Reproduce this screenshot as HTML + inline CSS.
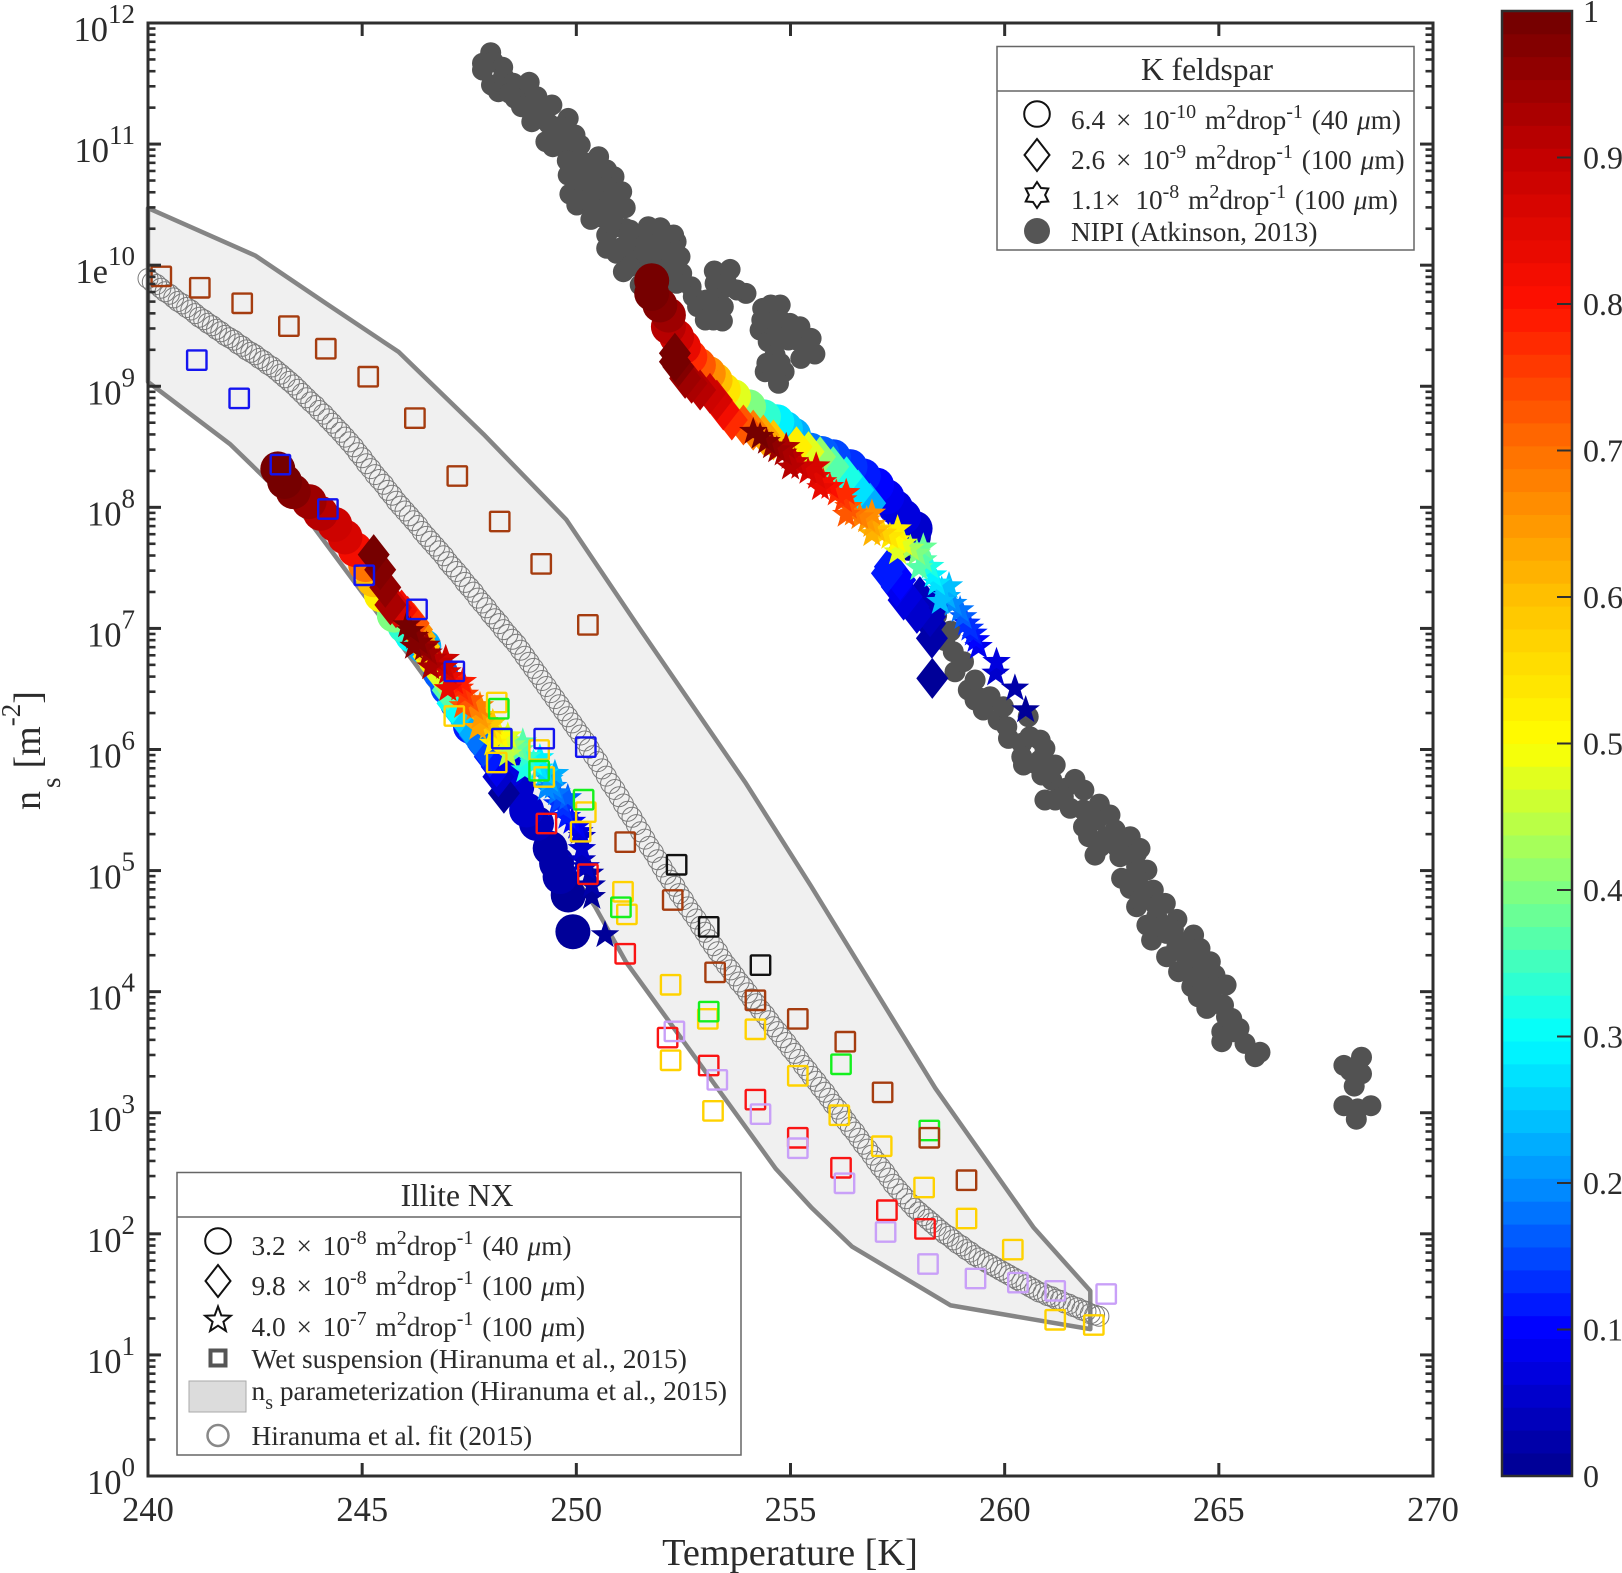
<!DOCTYPE html>
<html lang="en">
<head>
<meta charset="utf-8">
<title>Ice nucleation site density vs temperature</title>
<style>
html,body{margin:0;padding:0;background:#fff;}
svg{display:block;font-family:"Liberation Serif",serif;fill:#2b2b2b;}
</style>
</head>
<body>
<svg id="chart" xmlns="http://www.w3.org/2000/svg" width="1622" height="1573" viewBox="0 0 1622 1573">
  <g id="band-layer"></g>
  <g id="nipi-layer"></g>
  <g id="fit-layer"></g>
  <g id="marker-layer"></g>
  <g id="square-layer"></g>
  <g id="axis-layer"></g>
  <g id="colorbar-layer"></g>

  <text x="790" y="1565" font-size="38.3" text-anchor="middle">Temperature [K]</text>
  <text transform="translate(40,810) rotate(-90)" font-size="38">n<tspan font-size="27" dy="20" dx="3">s</tspan><tspan dy="-20" dx="9">[m</tspan><tspan font-size="27" dy="-20">-2</tspan><tspan dy="20">]</tspan></text>

  <g>
    <rect x="997" y="46.5" width="417" height="203.5" fill="#fff" stroke="#666" stroke-width="1.5"/>
    <line x1="997" y1="91" x2="1414" y2="91" stroke="#666" stroke-width="1.5"/>
    <text x="1207" y="80" font-size="31.5" text-anchor="middle">K feldspar</text>
    <circle cx="1037" cy="114" r="12.8" fill="none" stroke="#111" stroke-width="2"/>
    <polygon points="1037,139 1049.5,155 1037,171 1024.5,155" fill="none" stroke="#111" stroke-width="2"/>
    <polygon id="k-star-icon" fill="none" stroke="#111" stroke-width="2"/>
    <circle cx="1037" cy="231" r="13" fill="#555"/>
    <text x="1071" y="129" font-size="27.3">6.4 <tspan dx="4">×</tspan><tspan dx="4"> 10</tspan><tspan font-size="20" dy="-11">-10</tspan><tspan dy="11" dx="2"> m</tspan><tspan font-size="20" dy="-11">2</tspan><tspan dy="11">drop</tspan><tspan font-size="20" dy="-11">-1</tspan><tspan dy="11" dx="2"> (40 </tspan><tspan font-style="italic" dx="2">μ</tspan>m)</text>
    <text x="1071" y="169" font-size="27.3">2.6 <tspan dx="4">×</tspan><tspan dx="4"> 10</tspan><tspan font-size="20" dy="-11">-9</tspan><tspan dy="11" dx="2"> m</tspan><tspan font-size="20" dy="-11">2</tspan><tspan dy="11">drop</tspan><tspan font-size="20" dy="-11">-1</tspan><tspan dy="11" dx="2"> (100 </tspan><tspan font-style="italic" dx="2">μ</tspan>m)</text>
    <text x="1071" y="209" font-size="27.3">1.1×<tspan dx="8"> 10</tspan><tspan font-size="20" dy="-11">-8</tspan><tspan dy="11" dx="2"> m</tspan><tspan font-size="20" dy="-11">2</tspan><tspan dy="11">drop</tspan><tspan font-size="20" dy="-11">-1</tspan><tspan dy="11" dx="2"> (100 </tspan><tspan font-style="italic" dx="2">μ</tspan>m)</text>
    <text x="1071" y="241" font-size="27.3">NIPI (Atkinson, 2013)</text>
  </g>

  <g>
    <rect x="177" y="1172.5" width="564" height="282.5" fill="#fff" stroke="#666" stroke-width="1.5"/>
    <line x1="177" y1="1217" x2="741" y2="1217" stroke="#666" stroke-width="1.5"/>
    <text x="457" y="1206" font-size="31.5" text-anchor="middle">Illite NX</text>
    <circle cx="218" cy="1241" r="12.8" fill="none" stroke="#111" stroke-width="2"/>
    <polygon points="218,1265 230.5,1281 218,1297 205.5,1281" fill="none" stroke="#111" stroke-width="2"/>
    <polygon id="illite-star-icon" fill="none" stroke="#111" stroke-width="2"/>
    <rect x="210.5" y="1350.5" width="15" height="15" fill="none" stroke="#555" stroke-width="4"/>
    <rect x="189" y="1381" width="57" height="31" fill="#dcdcdc" stroke="#aaa" stroke-width="1"/>
    <circle cx="218" cy="1435.5" r="10.5" fill="none" stroke="#888" stroke-width="2.5"/>
    <text x="251.5" y="1255" font-size="27.3">3.2 <tspan dx="4">×</tspan><tspan dx="4"> 10</tspan><tspan font-size="20" dy="-11">-8</tspan><tspan dy="11" dx="2"> m</tspan><tspan font-size="20" dy="-11">2</tspan><tspan dy="11">drop</tspan><tspan font-size="20" dy="-11">-1</tspan><tspan dy="11" dx="2"> (40 </tspan><tspan font-style="italic" dx="2">μ</tspan>m)</text>
    <text x="251.5" y="1295" font-size="27.3">9.8 <tspan dx="4">×</tspan><tspan dx="4"> 10</tspan><tspan font-size="20" dy="-11">-8</tspan><tspan dy="11" dx="2"> m</tspan><tspan font-size="20" dy="-11">2</tspan><tspan dy="11">drop</tspan><tspan font-size="20" dy="-11">-1</tspan><tspan dy="11" dx="2"> (100 </tspan><tspan font-style="italic" dx="2">μ</tspan>m)</text>
    <text x="251.5" y="1336" font-size="27.3">4.0 <tspan dx="4">×</tspan><tspan dx="4"> 10</tspan><tspan font-size="20" dy="-11">-7</tspan><tspan dy="11" dx="2"> m</tspan><tspan font-size="20" dy="-11">2</tspan><tspan dy="11">drop</tspan><tspan font-size="20" dy="-11">-1</tspan><tspan dy="11" dx="2"> (100 </tspan><tspan font-style="italic" dx="2">μ</tspan>m)</text>
    <text x="251.5" y="1368" font-size="27.5">Wet suspension (Hiranuma et al., 2015)</text>
    <text x="251.5" y="1400" font-size="27.4">n<tspan font-size="20" dy="9">s</tspan><tspan dy="-9"> parameterization (Hiranuma et al., 2015)</tspan></text>
    <text x="251.5" y="1445" font-size="27.4">Hiranuma et al. fit (2015)</text>
  </g>
</svg>

<script>
// ---- axis ticks ----
var xTicks = [240, 245, 250, 255, 260, 265, 270];
var yTickExponents = [0, 1, 2, 3, 4, 5, 6, 7, 8, 9, 10, 11, 12];
var colorbarTicks = [0, 0.1, 0.2, 0.3, 0.4, 0.5, 0.6, 0.7, 0.8, 0.9, 1];
var colorbarTickLabels = ['0', '0.1', '0.2', '0.3', '0.4', '0.5', '0.6', '0.7', '0.8', '0.9', '1'];
var minorMultipliers = [2, 3, 4, 5, 6, 7, 8, 9];

// ---- colour scale stops, one per colorbar tick ----
var colorStopsR = [0, 0, 0, 0, 128, 255, 255, 255, 255, 195, 112];
var colorStopsG = [0, 0, 144, 255, 255, 255, 192, 112, 16, 0, 0];
var colorStopsB = [143, 255, 255, 255, 128, 0, 0, 0, 0, 0, 0];

// ---- parameterization band (T in K, log10 ns) ----
var bandUpperT = [240, 242.51, 244.15, 245.85, 247.83, 249.76, 251.52, 253.94, 255.48, 258.38, 260.68, 262];
var bandUpperLog = [10.471, 10.078, 9.685, 9.284, 8.605, 7.9, 6.978, 5.731, 4.871, 3.203, 2.05, 1.529];
var bandLowerT = [262, 258.74, 256.43, 255.48, 254.66, 251.16, 250.43, 249.59, 248.14, 246.21, 243.79, 242.71, 241.91, 240];
var bandLowerLog = [1.213, 1.409, 1.896, 2.22, 2.536, 4.245, 4.706, 5.141, 5.782, 6.721, 7.875, 8.25, 8.524, 9.036];

// ---- NIPI (Atkinson, 2013) ----
var nipiT = [248.0,247.81,247.81,248.06,248.28,248.02,248.18,248.30,248.53,248.9,248.76,248.57,248.72,249.08,249.43,249.23,248.96,249.15,249.29,249.45,249.81,249.62,249.97,250.09,249.70,249.85,249.79,250.52,250.28,249.81,250.01,250.71,250.88,250.40,250.09,249.85,250.01,251.06,250.71,250.55,250.36,251.14,250.34,250.71,250.94,250.71,250.71,251.14,250.94,251.10,251.41,251.68,251.96,252.27,252.33,252.3,251.96,251.64,251.33,251.53,252.27,252.46,252.68,252.34,251.49,251.96,
248.45,248.99,249.35,249.54,249.85,250.16,250.05,250.4,250.24,250.79,250.55,250.94,250.83,251.25,251.1,251.57,251.88,252.03,251.25,251.96,252.42,252.11,252.73,
253.01,252.83,253.22,253.59,253.96,253.43,253.24,253.2,253.41,253.43,253.04,253.51,253.28,253.75,253.2,
254.35,254.54,254.76,254.29,254.48,254.76,254.99,255.22,255.48,255.57,255.24,254.95,255.15,254.41,254.66,254.85,254.72,254.64,254.52,254.68,255.07,255.38,254.6,254.33,254.64,254.45,254.76,
258.41,258.74,258.6,258.80,258.84,259.15,259.31,259.31,259.50,259.85,259.66,259.97,260.09,260.55,260.4,260.4,260.44,260.83,260.94,261.18,260.87,260.83,261.10,261.64,261.85,260.94,261.18,261.41,261.53,261.84,262.21,262.46,262.15,262.58,262.11,262.23,262.38,262.93,263.16,262.62,262.85,263.32,263.08,262.73,262.93,263.08,263.47,263.24,263.75,263.32,263.43,263.78,264.02,264.41,264.56,264.06,263.78,264.17,264.8,264.25,264.91,265.17,264.37,264.52,264.72,265.11,265.30,265.07,265.47,265.07,265.26,265.61,265.85,265.96,264.64,263.55,
259.04,259.46,260.05,260.59,260.71,260.98,261.37,261.84,261.96,262.69,263.08,263.0,263.16,263.55,263.67,263.94,264.02,264.41,264.48,264.72,264.95,264.87,265.18,265.34,
267.92,268.33,268.33,268.16,267.92,268.24,268.55,268.21,268.07];
var nipiLog = [11.755,11.667,11.612,11.68,11.634,11.488,11.433,11.557,11.502,11.51,11.419,11.378,11.309,11.391,11.323,11.281,11.185,11.226,11.02,10.978,11.212,11.144,11.075,10.992,11.033,10.923,10.863,10.896,10.841,10.744,10.786,10.786,10.731,10.731,10.648,10.587,10.497,10.607,10.648,10.565,10.51,10.475,10.378,10.455,10.318,10.249,10.139,10.304,10.098,9.946,10.235,10.318,10.309,10.249,10.194,10.125,10.18,10.18,10.098,10.015,10.042,9.932,9.822,9.85,9.836,10.042,
11.419,11.309,11.171,11.061,11.033,10.841,10.703,10.62,10.538,10.538,10.40,10.455,10.345,10.29,10.153,10.098,10.125,10.249,9.987,9.905,10.07,9.932,9.74,
9.547,9.657,9.952,9.965,9.767,9.808,9.85,9.726,9.539,9.657,9.712,9.85,9.602,9.795,9.547,
9.643,9.671,9.671,9.464,9.368,9.547,9.519,9.492,9.395,9.266,9.23,9.382,9.382,9.12,9.208,9.12,9.024,9.106,9.519,9.409,9.464,9.327,9.547,9.547,9.258,9.19,9.19,
7.106,6.978,6.9,6.808,6.642,6.491,6.574,6.408,6.326,6.243,6.436,6.353,6.092,6.271,6.051,5.94,5.872,6.078,6.009,5.872,5.789,5.913,5.748,5.753,5.665,5.583,5.583,5.679,5.514,5.362,5.549,5.459,5.417,5.335,5.128,5.197,5.28,5.28,5.183,5.197,5.142,5.004,5.032,4.936,4.853,4.702,4.839,4.839,4.729,4.55,4.426,4.289,4.597,4.468,4.357,4.165,4.481,4.399,4.247,4.261,4.137,4.055,4.041,3.958,3.862,3.889,3.779,3.669,3.697,3.587,3.669,3.573,3.463,3.499,4.151,4.619,
6.725,6.422,6.188,6.106,5.885,5.803,5.61,5.5,5.28,5.115,5.142,4.949,4.757,4.702,4.536,4.509,4.371,4.289,4.123,3.986,3.903,4.041,3.793,3.669,
3.391,3.459,3.322,3.22,3.058,3.032,3.058,2.947,3.348];

// ---- Hiranuma et al. fit (2015) ----
var fitT = [240,240.1,240.2,240.3,240.4,240.5,240.6,240.7,240.8,240.9,241,241.1,241.2,241.3,241.4,241.5,241.6,241.7,241.8,241.9,242,242.1,242.2,242.3,242.4,242.5,242.6,242.7,242.8,242.9,243,243.1,243.2,243.3,243.4,243.5,243.6,243.7,243.8,243.9,244,244.1,244.2,244.3,244.4,244.5,244.6,244.7,244.8,244.9,245,245.1,245.2,245.3,245.4,245.5,245.6,245.7,245.8,245.9,246,246.1,246.2,246.3,246.4,246.5,246.6,246.7,246.8,246.9,247,247.1,247.2,247.3,247.4,247.5,247.6,247.7,247.8,247.9,248,248.1,248.2,248.3,248.4,248.5,248.6,248.7,248.8,248.9,249,249.1,249.2,249.3,249.4,249.5,249.6,249.7,249.8,249.9,250,250.1,250.2,250.3,250.4,250.5,250.6,250.7,250.8,250.9,251,251.1,251.2,251.3,251.4,251.5,251.6,251.7,251.8,251.9,252,252.1,252.2,252.3,252.4,252.5,252.6,252.7,252.8,252.9,253,253.1,253.2,253.3,253.4,253.5,253.6,253.7,253.8,253.9,254,254.1,254.2,254.3,254.4,254.5,254.6,254.7,254.8,254.9,255,255.1,255.2,255.3,255.4,255.5,255.6,255.7,255.8,255.9,256,256.1,256.2,256.3,256.4,256.5,256.6,256.7,256.8,256.9,257,257.1,257.2,257.3,257.4,257.5,257.6,257.7,257.8,257.9,258,258.1,258.2,258.3,258.4,258.5,258.6,258.7,258.8,258.9,259,259.1,259.2,259.3,259.4,259.5,259.6,259.7,259.8,259.9,260,260.1,260.2,260.3,260.4,260.5,260.6,260.7,260.8,260.9,261,261.1,261.2,261.3,261.4,261.5,261.6,261.7,261.8,261.9,262,262.1,262.2];
var fitLog = [9.89,9.86,9.84,9.81,9.78,9.76,9.73,9.70,9.68,9.65,9.63,9.60,9.57,9.55,9.52,9.50,9.47,9.45,9.42,9.40,9.38,9.35,9.33,9.30,9.28,9.26,9.23,9.21,9.18,9.16,9.13,9.10,9.07,9.04,9.01,8.975,8.94,8.905,8.87,8.84,8.80,8.77,8.73,8.695,8.655,8.62,8.58,8.54,8.50,8.45,8.41,8.36,8.32,8.27,8.23,8.19,8.14,8.10,8.05,8.01,7.97,7.93,7.89,7.85,7.80,7.76,7.72,7.68,7.64,7.60,7.55,7.51,7.47,7.43,7.38,7.34,7.30,7.25,7.21,7.17,7.12,7.08,7.04,6.99,6.95,6.91,6.87,6.82,6.77,6.72,6.67,6.62,6.57,6.52,6.47,6.42,6.37,6.32,6.27,6.22,6.17,6.12,6.07,6.01,5.95,5.90,5.84,5.78,5.72,5.67,5.61,5.55,5.49,5.44,5.38,5.32,5.26,5.20,5.15,5.09,5.03,4.97,4.92,4.87,4.81,4.76,4.70,4.65,4.60,4.54,4.49,4.43,4.38,4.33,4.27,4.22,4.18,4.13,4.08,4.04,3.99,3.94,3.90,3.85,3.81,3.76,3.71,3.67,3.62,3.58,3.53,3.49,3.44,3.39,3.35,3.30,3.26,3.21,3.17,3.12,3.07,3.03,2.98,2.93,2.88,2.84,2.79,2.74,2.70,2.65,2.60,2.55,2.51,2.46,2.41,2.37,2.33,2.29,2.25,2.21,2.18,2.15,2.12,2.09,2.06,2.03,2.00,1.98,1.95,1.92,1.90,1.87,1.85,1.82,1.80,1.78,1.76,1.74,1.72,1.70,1.68,1.66,1.64,1.62,1.60,1.58,1.56,1.54,1.52,1.51,1.49,1.48,1.46,1.45,1.43,1.42,1.40,1.39,1.37,1.36,1.34,1.33,1.32];

// ---- Illite NX droplet series (T, log10 ns, frozen fraction) ----
var illiteCircleT = [243.03,243.19,243.39,243.76,244.03,244.36,244.6,244.84,245.08,245.27,245.45,245.75,246.0,246.17,246.44,246.83,247.0,247.22,247.53,247.85,248.16,248.4,248.61,248.84,249.07,249.39,249.54,249.62,249.81,249.92];
var illiteCircleLog = [8.317,8.213,8.13,8.047,7.951,7.859,7.755,7.651,7.527,7.402,7.277,7.11,7.02,6.944,6.852,6.632,6.51,6.384,6.191,6.078,5.971,5.83,5.693,5.5,5.39,5.184,5.06,4.95,4.798,4.495];
var illiteCircleFrac = [1,0.99,0.98,0.95,0.92,0.89,0.86,0.82,0.7,0.6,0.52,0.4,0.34,0.3,0.22,0.16,0.145,0.13,0.11,0.09,0.075,0.068,0.06,0.05,0.04,0.03,0.025,0.02,0.01,0];

var illiteDiamondT = [245.27,245.42,245.54,245.66,245.79,245.92,246.06,246.2,246.28,246.35,246.45,246.55,246.72,246.88,247.0,247.11,247.27,247.44,247.63,247.83,247.98,248.14,248.18,248.31];
var illiteDiamondLog = [7.61,7.485,7.339,7.194,7.17,7.152,7.1,7.042,6.99,6.932,6.85,6.767,6.68,6.601,6.49,6.381,6.3,6.216,6.12,6.023,5.94,5.858,5.775,5.638];
var illiteDiamondFrac = [1,0.98,0.96,0.93,0.87,0.82,0.77,0.72,0.67,0.62,0.57,0.52,0.47,0.42,0.36,0.3,0.26,0.22,0.18,0.15,0.115,0.08,0.05,0];

var illiteStarT = [246.04,246.13,246.23,246.33,246.43,246.55,246.66,246.8,246.93,246.99,247.05,247.16,247.28,247.4,247.52,247.63,247.75,247.85,247.95,248.08,248.22,248.35,248.49,248.6,248.69,248.85,249.0,249.14,249.27,249.37,249.46,249.54,249.62,249.7,249.78,249.9,250.01,250.07,250.13,250.13,250.13,250.22,250.32,250.36,250.36,250.67,
246.5,246.95,247.35,247.75,248.05,248.4,248.75,249.15,249.5,249.8,249.55,246.2,246.6,247.0,247.35,247.7,248.05,248.4,248.8,249.3];
var illiteStarLog = [7.028,6.98,6.932,6.885,6.835,6.795,6.753,6.72,6.684,6.64,6.601,6.555,6.505,6.455,6.409,6.34,6.271,6.23,6.188,6.145,6.106,6.07,6.037,6.015,5.996,5.94,5.886,5.845,5.803,5.75,5.693,5.64,5.583,5.515,5.445,5.405,5.363,5.32,5.28,5.18,5.087,5.03,4.977,4.88,4.784,4.468,
6.86,6.75,6.56,6.36,6.22,6.11,6.06,5.93,5.8,5.6,5.55,6.85,6.68,6.5,6.36,6.18,6.05,5.96,5.83,5.68];
var illiteStarFrac = [1,0.99,0.98,0.97,0.96,0.94,0.92,0.9,0.88,0.86,0.84,0.81,0.78,0.75,0.72,0.685,0.65,0.615,0.58,0.54,0.5,0.46,0.42,0.39,0.36,0.33,0.3,0.275,0.25,0.225,0.2,0.175,0.15,0.13,0.11,0.095,0.08,0.07,0.06,0.05,0.04,0.035,0.03,0.022,0.015,0,
0.95,0.89,0.79,0.68,0.59,0.47,0.37,0.29,0.23,0.16,0.14,0.97,0.93,0.83,0.73,0.63,0.53,0.44,0.32,0.2];

// ---- K feldspar droplet series (T, log10 ns, frozen fraction) ----
var kCircleT = [251.76,251.76,251.95,252.15,252.15,252.34,252.5,252.65,252.85,253.08,253.24,253.43,253.67,254.02,254.37,254.68,254.88,255.07,255.46,255.73,256.0,256.39,256.7,257.01,257.25,257.45,257.64,257.91,257.87,257.79];
var kCircleLog = [9.872,9.767,9.671,9.588,9.492,9.409,9.327,9.244,9.175,9.106,9.051,8.969,8.914,8.831,8.748,8.707,8.65,8.597,8.473,8.445,8.418,8.336,8.26,8.184,8.088,8.0,7.923,7.826,7.757,7.702];
var kCircleFrac = [1,0.99,0.97,0.95,0.92,0.88,0.84,0.78,0.72,0.66,0.6,0.54,0.47,0.4,0.33,0.29,0.26,0.23,0.18,0.165,0.15,0.125,0.112,0.1,0.085,0.078,0.07,0.05,0.03,0.01];

var kDiamondT = [252.3,252.3,252.38,252.54,252.69,252.89,253.12,253.28,253.43,253.63,253.9,254.13,254.37,254.6,255.14,255.42,255.69,256.0,256.31,256.58,256.86,257.25,257.32,257.48,257.56,257.64,257.71,257.87,257.95,258.02,258.26,258.26,258.34,258.3,258.31];
var kDiamondLog = [9.272,9.203,9.161,9.065,9.024,8.969,8.941,8.886,8.804,8.721,8.68,8.638,8.597,8.556,8.501,8.46,8.418,8.336,8.253,8.143,8.033,7.455,7.51,7.344,7.4,7.234,7.262,7.179,7.124,7.262,7.097,7.04,7.179,6.918,6.587];
var kDiamondFrac = [1,0.99,0.97,0.95,0.93,0.91,0.89,0.86,0.82,0.78,0.73,0.68,0.63,0.58,0.52,0.47,0.42,0.37,0.32,0.27,0.22,0.115,0.12,0.09,0.095,0.07,0.075,0.055,0.05,0.045,0.035,0.03,0.035,0.02,0];

var kStarT = [254.13,254.29,254.44,254.56,254.68,254.83,254.99,255.10,255.22,255.41,255.61,255.76,255.92,256.07,256.23,256.35,256.47,256.62,256.78,256.9,257.01,257.16,257.32,257.48,257.64,257.8,257.95,258.1,258.26,258.33,258.41,258.53,258.65,258.8,258.96,259.03,259.11,259.19,259.27,259.33,259.39,259.81,259.79,260.24,260.49,
255.0,255.7,256.3,256.9,257.5,258.0,258.5,254.9,255.6,256.3,256.9,257.5,258.1,258.7];
var kStarLog = [8.625,8.584,8.542,8.505,8.473,8.446,8.418,8.376,8.336,8.295,8.253,8.21,8.17,8.115,8.06,8.005,7.95,7.92,7.895,7.855,7.812,7.785,7.757,7.73,7.702,7.66,7.62,7.565,7.51,7.44,7.372,7.315,7.262,7.205,7.152,7.095,7.042,7.0,6.959,6.905,6.849,6.725,6.629,6.505,6.326,
8.33,8.16,7.94,7.78,7.63,7.5,7.22,8.5,8.34,8.12,7.95,7.82,7.67,7.35];
var kStarFrac = [1,0.985,0.97,0.96,0.95,0.935,0.92,0.905,0.89,0.87,0.85,0.825,0.8,0.775,0.75,0.725,0.7,0.675,0.65,0.625,0.6,0.57,0.54,0.505,0.47,0.435,0.4,0.36,0.32,0.295,0.27,0.245,0.22,0.2,0.18,0.16,0.14,0.13,0.12,0.105,0.09,0.07,0.05,0.03,0,
0.91,0.83,0.72,0.62,0.48,0.36,0.24,0.93,0.86,0.77,0.66,0.52,0.38,0.24];

// ---- Wet suspension squares (T, log10 ns) ----
var goldT = [247.15,248.14,248.14,249.13,249.25,250.22,250.1,251.09,251.18,252.2,252.2,253.19,253.07,254.18,255.17,256.14,257.13,258.12,259.11,260.19,261.18,262.08];
var goldLog = [6.277,6.388,5.893,5.996,5.773,5.483,5.321,4.825,4.638,4.057,3.433,3.015,3.775,3.689,3.305,2.98,2.724,2.383,2.127,1.87,1.29,1.247];
var greenT = [248.19,248.26,249.13,250.17,251.04,253.09,256.18,258.24];
var greenLog = [6.337,6.09,5.825,5.585,4.697,3.835,3.4,2.853];
var brownT = [240.31,241.21,242.2,243.29,244.15,245.14,246.23,247.22,248.21,249.18,250.27,251.14,252.25,253.24,254.18,255.17,256.28,257.15,258.24,259.11];
var brownLog = [9.907,9.813,9.685,9.497,9.31,9.079,8.737,8.259,7.883,7.533,7.029,5.235,4.757,4.159,3.929,3.775,3.587,3.168,2.793,2.443];
var redT = [249.3,250.27,251.14,252.13,253.09,254.18,255.17,256.18,257.25,258.14];
var redLog = [5.389,4.97,4.313,3.621,3.39,3.109,2.793,2.545,2.195,2.041];
var purpleT = [252.29,253.29,254.3,255.17,256.26,257.22,258.21,259.32,260.31,261.18,262.37];
var purpleLog = [3.672,3.271,2.989,2.707,2.417,2.015,1.751,1.631,1.597,1.529,1.503];
var blueT = [241.14,242.13,243.09,244.2,245.05,246.28,247.15,248.26,249.25,250.22];
var blueLog = [9.216,8.9,8.353,7.986,7.439,7.157,6.645,6.09,6.09,6.02];
var blackT = [252.34,253.09,254.3];
var blackLog = [5.048,4.535,4.219];

// ---- axis functions ----
var SVGNS = 'http://www.w3.org/2000/svg';
var plotLeft = 148, plotRight = 1433, plotTop = 23, plotBottom = 1476;
function xScale(t) { return plotLeft + (t - 240) / 30 * (plotRight - plotLeft); }
function yScale(logN) { return plotBottom - logN / 12 * (plotBottom - plotTop); }
var cbLeft = 1502, cbRight = 1572, cbTop = 11, cbBottom = 1476;
function cbScale(v) { return cbBottom - v * (cbBottom - cbTop); }

function colourAt(v) {
  var p = Math.max(0, Math.min(0.9999, v)) * 10;
  var k = Math.floor(p), f = p - k;
  var r = colorStopsR[k] + (colorStopsR[k + 1] - colorStopsR[k]) * f;
  var g = colorStopsG[k] + (colorStopsG[k + 1] - colorStopsG[k]) * f;
  var b = colorStopsB[k] + (colorStopsB[k + 1] - colorStopsB[k]) * f;
  return 'rgb(' + Math.round(r) + ',' + Math.round(g) + ',' + Math.round(b) + ')';
}
function colourLevel(i) { return colourAt((i + 0.5) / 64); }
function frostColour(f) { return colourLevel(Math.min(63, Math.floor(f * 64))); }

function make(tag, parent) {
  var el = document.createElementNS(SVGNS, tag);
  parent.appendChild(el);
  return el;
}
function starPoints(cx, cy, r, n, ratio) {
  var pts = [];
  for (var i = 0; i < 2 * n; i++) {
    var a = -Math.PI / 2 + i * Math.PI / n;
    var rr = i % 2 ? r * ratio : r;
    pts.push((cx + rr * Math.cos(a)).toFixed(1) + ',' + (cy + rr * Math.sin(a)).toFixed(1));
  }
  return pts.join(' ');
}

document.getElementById('k-star-icon').setAttribute('points', starPoints(1037, 195, 13, 6, 0.62));
document.getElementById('illite-star-icon').setAttribute('points', starPoints(218, 1320, 13.5, 5, 0.42));

// ---- band ----
var bandLayer = document.getElementById('band-layer');
var bandPts = [];
bandUpperT.forEach(function (t, i) { bandPts.push(xScale(t).toFixed(1) + ',' + yScale(bandUpperLog[i]).toFixed(1)); });
bandLowerT.forEach(function (t, i) { bandPts.push(xScale(t).toFixed(1) + ',' + yScale(bandLowerLog[i]).toFixed(1)); });
var bandPoly = make('polygon', bandLayer);


bandPoly.setAttribute('points', bandPts.join(' '));
bandPoly.setAttribute('fill', '#f0f0f0');
bandPoly.setAttribute('stroke', '#858585');
bandPoly.setAttribute('stroke-width', '4.5');
bandPoly.setAttribute('stroke-linejoin', 'round');

// ---- NIPI ----
var nipiLayer = document.getElementById('nipi-layer');
nipiT.forEach(function (t, i) {
  var c = make('circle', nipiLayer);
  
  
  c.setAttribute('cx', xScale(t).toFixed(1));
  c.setAttribute('cy', yScale(nipiLog[i]).toFixed(1));
  c.setAttribute('r', '10.5');
  c.setAttribute('fill', '#525252');
});

// ---- Fit ----
var fitLayer = document.getElementById('fit-layer');
fitT.forEach(function (t, i) {
  var c = make('circle', fitLayer);
  
  
  c.setAttribute('cx', xScale(t).toFixed(1));
  c.setAttribute('cy', yScale(fitLog[i]).toFixed(1));
  c.setAttribute('r', '10');
  c.setAttribute('fill', 'none');
  c.setAttribute('stroke', '#7a7a7a');
  c.setAttribute('stroke-width', '1');
});

// ---- Frozen-fraction markers ----
var markerLayer = document.getElementById('marker-layer');
function order(frac) {
  return frac.map(function (f, i) { return i; }).sort(function (a, b) { return frac[a] - frac[b]; });
}
function drawCircles(ts, logs, frac, name) {
  order(frac).forEach(function (i) {
    var c = make('circle', markerLayer);
    
    
    c.setAttribute('cx', xScale(ts[i]).toFixed(1));
    c.setAttribute('cy', yScale(logs[i]).toFixed(1));
    c.setAttribute('r', '17.5');
    c.setAttribute('fill', frostColour(frac[i]));
  });
}
function drawDiamonds(ts, logs, frac, name) {
  order(frac).forEach(function (i) {
    var x = xScale(ts[i]), y = yScale(logs[i]);
    var p = make('polygon', markerLayer);
    
    
    p.setAttribute('points', x.toFixed(1) + ',' + (y - 20.5).toFixed(1) + ' ' + (x + 16).toFixed(1) + ',' + y.toFixed(1) + ' ' + x.toFixed(1) + ',' + (y + 20.5).toFixed(1) + ' ' + (x - 16).toFixed(1) + ',' + y.toFixed(1));
    p.setAttribute('fill', frostColour(frac[i]));
  });
}
function drawStars(ts, logs, frac, name) {
  order(frac).forEach(function (i) {
    var p = make('polygon', markerLayer);
    
    
    p.setAttribute('points', starPoints(xScale(ts[i]), yScale(logs[i]), 15, 5, 0.4));
    p.setAttribute('fill', frostColour(frac[i]));
  });
}
drawCircles(illiteCircleT, illiteCircleLog, illiteCircleFrac, 'illite-circle-marker');
drawDiamonds(illiteDiamondT, illiteDiamondLog, illiteDiamondFrac, 'illite-diamond-marker');
drawStars(illiteStarT, illiteStarLog, illiteStarFrac, 'illite-star-marker');
drawCircles(kCircleT, kCircleLog, kCircleFrac, 'k-feldspar-circle-marker');
drawDiamonds(kDiamondT, kDiamondLog, kDiamondFrac, 'k-feldspar-diamond-marker');
drawStars(kStarT, kStarLog, kStarFrac, 'k-feldspar-star-marker');

// ---- Squares ----
var squareLayer = document.getElementById('square-layer');
function drawSquares(ts, logs, color, name) {
  ts.forEach(function (t, i) {
    var r = make('rect', squareLayer);
    
    
    r.setAttribute('x', (xScale(t) - 9.7).toFixed(1));
    r.setAttribute('y', (yScale(logs[i]) - 9.7).toFixed(1));
    r.setAttribute('width', '19.4');
    r.setAttribute('height', '19.4');
    r.setAttribute('rx', '1');
    r.setAttribute('fill', 'none');
    r.setAttribute('stroke', color);
    r.setAttribute('stroke-width', '2.4');
  });
}
drawSquares(goldT, goldLog, '#ffd200', 'wet-suspension-gold-square');
drawSquares(greenT, greenLog, '#14f01e', 'wet-suspension-green-square');
drawSquares(brownT, brownLog, '#a53c0f', 'wet-suspension-brown-square');
drawSquares(redT, redLog, '#fa1414', 'wet-suspension-red-square');
drawSquares(purpleT, purpleLog, '#c9a0f8', 'wet-suspension-purple-square');
drawSquares(blueT, blueLog, '#1414f0', 'wet-suspension-blue-square');
drawSquares(blackT, blackLog, '#111111', 'wet-suspension-black-square');

// ---- Axes ----
var axisLayer = document.getElementById('axis-layer');
function axisLine(x1, y1, x2, y2, w, name) {
  var l = make('line', axisLayer);
  
  
  l.setAttribute('x1', x1);
  l.setAttribute('y1', y1);
  l.setAttribute('x2', x2);
  l.setAttribute('y2', y2);
  l.setAttribute('stroke', '#2f2f2f');
  l.setAttribute('stroke-width', w);
}
var frame = make('rect', axisLayer);


frame.setAttribute('x', plotLeft);
frame.setAttribute('y', plotTop);
frame.setAttribute('width', plotRight - plotLeft);
frame.setAttribute('height', plotBottom - plotTop);
frame.setAttribute('fill', 'none');
frame.setAttribute('stroke', '#2f2f2f');
frame.setAttribute('stroke-width', '3');

xTicks.forEach(function (t) {
  var x = xScale(t);
  if (t > 240 && t < 270) {
    axisLine(x, plotBottom, x, plotBottom - 13, 3, 'x-tick-bottom');
    axisLine(x, plotTop, x, plotTop + 13, 3, 'x-tick-top');
  }
  var lab = make('text', axisLayer);
  
  
  lab.setAttribute('x', x.toFixed(1));
  lab.setAttribute('y', '1521');
  lab.setAttribute('font-size', '34.5');
  lab.setAttribute('text-anchor', 'middle');
  lab.textContent = String(t);
});

yTickExponents.forEach(function (e) {
  var y = yScale(e);
  axisLine(plotLeft, y, plotLeft + 13, y, 3, 'y-tick-left');
  axisLine(plotRight, y, plotRight - 13, y, 3, 'y-tick-right');
  if (e < 12) {
    minorMultipliers.forEach(function (m) {
      var my = yScale(e + Math.log10(m));
      axisLine(plotLeft, my, plotLeft + 7.5, my, 2.6, 'y-minor-tick-left');
      axisLine(plotRight, my, plotRight - 7.5, my, 2.6, 'y-minor-tick-right');
    });
  }
  var lab = make('text', axisLayer);
  
  
  lab.setAttribute('x', '135');
  lab.setAttribute('y', (y + 18).toFixed(1));
  lab.setAttribute('font-size', '34.5');
  lab.setAttribute('text-anchor', 'end');
  var base = make('tspan', lab);
  base.textContent = e === 10 ? '1e' : '10';
  var sup = make('tspan', lab);
  sup.setAttribute('font-size', '27');
  sup.setAttribute('dy', '-18');
  sup.textContent = String(e);
});

// ---- Colorbar ----
var cbLayer = document.getElementById('colorbar-layer');
for (var lvl = 0; lvl < 64; lvl++) {
  var band = make('rect', cbLayer);
  
  
  band.setAttribute('x', cbLeft);
  band.setAttribute('y', cbScale((lvl + 1) / 64).toFixed(2));
  band.setAttribute('width', cbRight - cbLeft);
  band.setAttribute('height', ((cbBottom - cbTop) / 64 + 0.4).toFixed(2));
  band.setAttribute('fill', colourLevel(lvl));
}
var cbFrame = make('rect', cbLayer);


cbFrame.setAttribute('x', cbLeft);
cbFrame.setAttribute('y', cbTop);
cbFrame.setAttribute('width', cbRight - cbLeft);
cbFrame.setAttribute('height', cbBottom - cbTop);
cbFrame.setAttribute('fill', 'none');
cbFrame.setAttribute('stroke', '#2f2f2f');
cbFrame.setAttribute('stroke-width', '2.5');

colorbarTicks.forEach(function (v, i) {
  var y = cbScale(v);
  if (v > 0 && v < 1) {
    var t = make('line', cbLayer);
    
    
    t.setAttribute('x1', cbRight);
    t.setAttribute('x2', cbRight - 15);
    t.setAttribute('y1', y.toFixed(1));
    t.setAttribute('y2', y.toFixed(1));
    t.setAttribute('stroke', '#2f2f2f');
    t.setAttribute('stroke-width', '2');
  }
  var lab = make('text', cbLayer);
  
  
  lab.setAttribute('x', '1583');
  lab.setAttribute('y', (y + 11).toFixed(1));
  lab.setAttribute('font-size', '32');
  lab.textContent = colorbarTickLabels[i];
});
</script>
</body>
</html>
